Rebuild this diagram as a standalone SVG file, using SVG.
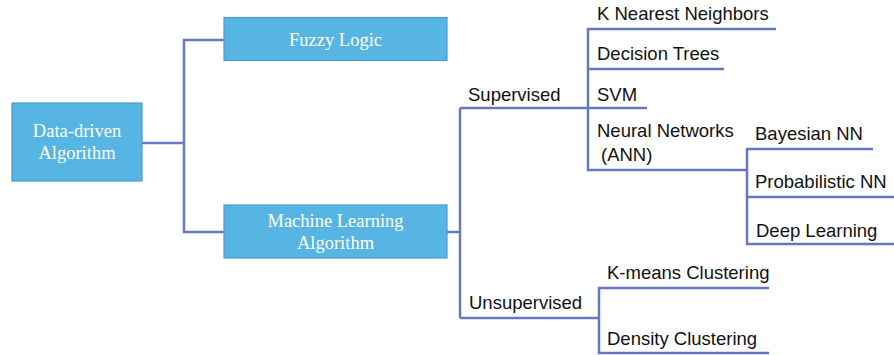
<svg xmlns="http://www.w3.org/2000/svg" width="894" height="355" viewBox="0 0 894 355">
<style>
.box{fill:#57b5e3;stroke:#4a9ccc;stroke-width:1.2}
.bt{font-family:"Liberation Serif",serif;font-size:18.5px;fill:#ffffff;text-anchor:middle}
.lt{font-family:"Liberation Sans",Arial,sans-serif;font-size:18.5px;fill:#111111}
.c{fill:none;stroke:#6478c2;stroke-width:2.5}
</style>
<rect width="894" height="355" fill="#ffffff"/>
<g id="connectors">
<polyline class="c" points="142,143 184,143"/>
<polyline class="c" points="224,40 184,40 184,232 224,232"/>
<polyline class="c" points="447,232 460,232"/>
<polyline class="c" points="460,108 460,318"/>
<polyline class="c" points="460,108 588,108"/>
<polyline class="c" points="460,318 599,318"/>
<polyline class="c" points="776,29 588,29 588,170 747,170"/>
<polyline class="c" points="588,69 724,69"/>
<polyline class="c" points="588,108 647,108"/>
<polyline class="c" points="873,149 747,149 747,244 894,244"/>
<polyline class="c" points="747,197 894,197"/>
<polyline class="c" points="769,288 599,288 599,353 769,353"/>
</g>
<g id="data-driven">
<rect class="box" x="12" y="103" width="130" height="78"/>
<text class="bt" x="77" y="137">Data-driven</text>
<text class="bt" x="77" y="159">Algorithm</text>
</g>
<g id="fuzzy-logic">
<rect class="box" x="224" y="17.5" width="223" height="43"/>
<text class="bt" x="335.5" y="46">Fuzzy Logic</text>
</g>
<g id="machine-learning">
<rect class="box" x="224" y="205" width="223" height="53"/>
<text class="bt" x="335.5" y="227">Machine Learning</text>
<text class="bt" x="335.5" y="249">Algorithm</text>
</g>
<g id="supervised"><text class="lt" x="468" y="101">Supervised</text></g>
<g id="unsupervised"><text class="lt" x="469" y="309">Unsupervised</text></g>
<g id="knn"><text class="lt" x="597" y="20">K Nearest Neighbors</text></g>
<g id="decision-trees"><text class="lt" x="597" y="60">Decision Trees</text></g>
<g id="svm"><text class="lt" x="597" y="101">SVM</text></g>
<g id="neural-networks">
<text class="lt" x="597" y="137">Neural Networks</text>
<text class="lt" x="601" y="161">(ANN)</text>
</g>
<g id="bayesian-nn"><text class="lt" x="755" y="140">Bayesian NN</text></g>
<g id="probabilistic-nn"><text class="lt" x="755" y="188">Probabilistic NN</text></g>
<g id="deep-learning"><text class="lt" x="756" y="237">Deep Learning</text></g>
<g id="kmeans"><text class="lt" x="607" y="279">K-means Clustering</text></g>
<g id="density"><text class="lt" x="607" y="345">Density Clustering</text></g>
</svg>
